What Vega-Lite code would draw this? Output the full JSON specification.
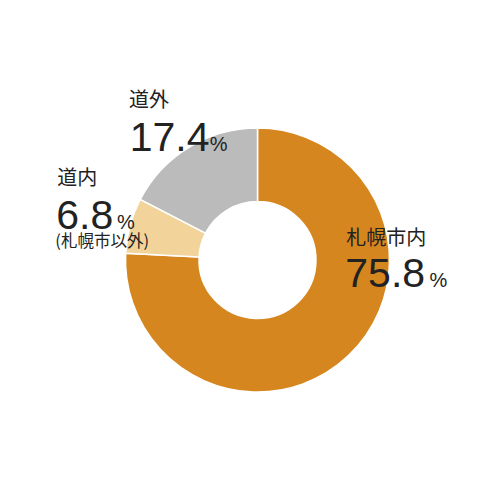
{
  "$schema": "https://vega.github.io/schema/vega-lite/v6.json",
  "width": 500,
  "height": 500,
  "autosize": {"type": "fit", "contains": "padding"},
  "padding": {"left": 15, "top": 20, "right": 0, "bottom": 0},
  "background": "white",
  "config": {
    "view": {"stroke": null},
    "text": {"font": "Noto Sans CJK JP", "color": "#222222", "align": "left", "baseline": "alphabetic"}
  },
  "data": {
    "values": [
      {"area": "札幌市内", "share": 75.8, "order": 1},
      {"area": "道内", "share": 6.8, "order": 2},
      {"area": "道外", "share": 17.4, "order": 3}
    ]
  },
  "transform": [
    {"stack": "share", "groupby": [], "sort": [{"field": "order", "order": "ascending"}], "as": ["s0", "s1"]}
  ],
  "layer": [
    {
      "mark": {"type": "arc", "outerRadius": 132, "innerRadius": 58.5, "stroke": "white", "strokeWidth": 1.5},
      "encoding": {
        "theta": {"field": "s0", "type": "quantitative", "stack": null, "scale": {"domain": [0, 100]}},
        "theta2": {"field": "s1"},
        "color": {
          "field": "area",
          "type": "nominal",
          "scale": {"domain": ["札幌市内", "道内", "道外"], "range": ["#D6861F", "#F2D49A", "#BBBBBB"]},
          "legend": null
        }
      }
    },
    {
      "transform": [{"filter": "datum.area === '道外'"}],
      "mark": {"type": "text", "radius": 132, "fontSize": 20, "dx": -11.3, "dy": -92},
      "encoding": {"theta": {"field": "s0", "type": "quantitative", "stack": null}, "text": {"field": "area"}}
    },
    {
      "transform": [{"filter": "datum.area === '道外'"}],
      "mark": {"type": "text", "radius": 132, "font": "Liberation Sans", "fontSize": 41, "dx": -10.5, "dy": -48},
      "encoding": {"theta": {"field": "s0", "type": "quantitative", "stack": null}, "text": {"field": "share", "format": ".1f"}}
    },
    {
      "transform": [{"filter": "datum.area === '道外'"}],
      "mark": {"type": "text", "radius": 132, "font": "Liberation Sans", "fontSize": 20, "dx": 69.5, "dy": -48, "text": "%"},
      "encoding": {"theta": {"field": "s0", "type": "quantitative", "stack": null}}
    },
    {
      "transform": [{"filter": "datum.area === '道内'"}],
      "mark": {"type": "text", "radius": 132, "fontSize": 20, "dx": -68.4, "dy": -68.1},
      "encoding": {"theta": {"field": "s0", "type": "quantitative", "stack": null}, "text": {"field": "area"}}
    },
    {
      "transform": [{"filter": "datum.area === '道内'"}],
      "mark": {"type": "text", "radius": 132, "font": "Liberation Sans", "fontSize": 41, "dx": -69.4, "dy": -24.4},
      "encoding": {"theta": {"field": "s0", "type": "quantitative", "stack": null}, "text": {"field": "share", "format": ".1f"}}
    },
    {
      "transform": [{"filter": "datum.area === '道内'"}],
      "mark": {"type": "text", "radius": 132, "font": "Liberation Sans", "fontSize": 20, "dx": -8.7, "dy": -24.4, "text": "%"},
      "encoding": {"theta": {"field": "s0", "type": "quantitative", "stack": null}}
    },
    {
      "transform": [{"filter": "datum.area === '道内'"}],
      "mark": {"type": "text", "radius": 132, "fontSize": 16.5, "dx": -70.3, "dy": -6.6, "text": "(札幌市以外)"},
      "encoding": {"theta": {"field": "s0", "type": "quantitative", "stack": null}}
    },
    {
      "transform": [{"filter": "datum.area === '札幌市内'"}],
      "mark": {"type": "text", "radius": 132, "fontSize": 20, "dx": 88.8, "dy": 117},
      "encoding": {"theta": {"field": "s0", "type": "quantitative", "stack": null}, "text": {"field": "area"}}
    },
    {
      "transform": [{"filter": "datum.area === '札幌市内'"}],
      "mark": {"type": "text", "radius": 132, "font": "Liberation Sans", "fontSize": 41, "dx": 87.8, "dy": 158.7},
      "encoding": {"theta": {"field": "s0", "type": "quantitative", "stack": null}, "text": {"field": "share", "format": ".1f"}}
    },
    {
      "transform": [{"filter": "datum.area === '札幌市内'"}],
      "mark": {"type": "text", "radius": 132, "font": "Liberation Sans", "fontSize": 20, "dx": 172, "dy": 158.7, "text": "%"},
      "encoding": {"theta": {"field": "s0", "type": "quantitative", "stack": null}}
    }
  ]
}
